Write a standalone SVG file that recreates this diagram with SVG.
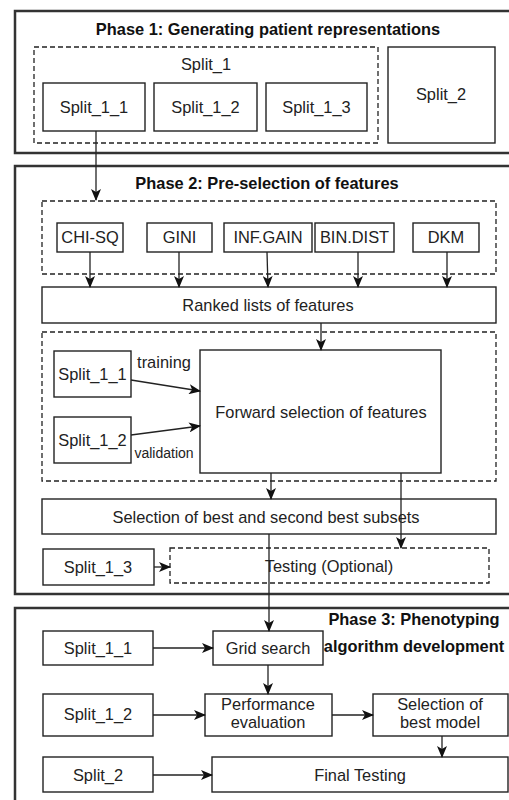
<svg xmlns="http://www.w3.org/2000/svg" width="509" height="800" viewBox="0 0 509 800">
<defs>
<style>
.frame{fill:none;stroke:#333;stroke-width:2.5}
.box{fill:#fff;stroke:#222;stroke-width:1.4}
.dash{fill:none;stroke:#222;stroke-width:1.3;stroke-dasharray:5,3}
.dashw{fill:#fff;stroke:#222;stroke-width:1.3;stroke-dasharray:5,3}
.t{font-family:"Liberation Sans",Arial,sans-serif;font-size:16.4px;fill:#222;text-anchor:middle}
.s{font-size:14px}
.b{font-weight:bold;fill:#111}
.c{fill:none;stroke:#222;stroke-width:1.3}
</style>
<marker id="ah" markerWidth="12" markerHeight="10" refX="11" refY="5" orient="auto" markerUnits="userSpaceOnUse">
<path d="M0,0 L12,5 L0,10 L3,5 Z" fill="#111"/>
</marker>
</defs>
<rect width="509" height="800" fill="#fff"/>

<g id="phase1">
<rect class="frame" x="15" y="11" width="510" height="142"/>
<text class="t b" x="268" y="35">Phase 1: Generating patient representations</text>
</g>
<g id="split1">
<rect class="dash" x="34" y="47" width="344" height="96"/>
<text class="t" x="206" y="70">Split_1</text>
</g>
<g id="p1_split_1_1"><rect class="box" x="43" y="83" width="102" height="48"/><text class="t" x="94" y="113">Split_1_1</text></g>
<g id="p1_split_1_2"><rect class="box" x="154" y="83" width="103" height="48"/><text class="t" x="205.5" y="113">Split_1_2</text></g>
<g id="p1_split_1_3"><rect class="box" x="266" y="83" width="101" height="48"/><text class="t" x="316.5" y="113">Split_1_3</text></g>
<g id="p1_split_2"><rect class="box" x="388" y="47" width="107" height="96"/><text class="t" x="441" y="100">Split_2</text></g>

<g id="phase2">
<rect class="frame" x="15" y="166" width="510" height="428"/>
<text class="t b" x="267" y="189">Phase 2: Pre-selection of features</text>
</g>
<g id="methods_group"><rect class="dash" x="42" y="201" width="454" height="73"/></g>
<g id="chisq"><rect class="box" x="57" y="223" width="66" height="29"/><text class="t" x="90" y="243">CHI-SQ</text></g>
<g id="gini"><rect class="box" x="147" y="223" width="65" height="29"/><text class="t" x="179.5" y="243">GINI</text></g>
<g id="infgain"><rect class="box" x="224" y="223" width="88" height="29"/><text class="t" x="268" y="243">INF.GAIN</text></g>
<g id="bindist"><rect class="box" x="315" y="223" width="79" height="29"/><text class="t" x="354.5" y="243">BIN.DIST</text></g>
<g id="dkm"><rect class="box" x="413" y="223" width="66" height="29"/><text class="t" x="446" y="243">DKM</text></g>
<g id="ranked"><rect class="box" x="42" y="287" width="454" height="36"/><text class="t" x="268" y="311">Ranked lists of features</text></g>
<g id="fs_group"><rect class="dash" x="42" y="332" width="454" height="149"/></g>
<g id="forward"><rect class="box" x="200" y="350" width="241" height="123"/><text class="t" x="321" y="417.5">Forward selection of features</text></g>
<g id="p2_split_1_1"><rect class="box" x="54" y="351" width="77" height="46"/><text class="t" x="92.5" y="380">Split_1_1</text></g>
<g id="p2_split_1_2"><rect class="box" x="54" y="417" width="77" height="46"/><text class="t" x="92.5" y="446">Split_1_2</text></g>
<g id="selection"><rect class="box" x="42" y="499" width="454" height="35"/><text class="t" x="266" y="522.5">Selection of best and second best subsets</text></g>
<g id="testing"><rect class="dashw" x="170" y="548" width="319" height="35"/><text class="t" x="329" y="571.5">Testing (Optional)</text></g>
<g id="p2_split_1_3"><rect class="box" x="43" y="549" width="111" height="36"/><text class="t" x="98" y="573">Split_1_3</text></g>

<g id="phase3">
<rect class="frame" x="15" y="608" width="510" height="210"/>
<text class="t b" x="414" y="625">Phase 3: Phenotyping</text>
<text class="t b" x="414" y="652">algorithm development</text>
</g>
<g id="p3_split_1_1"><rect class="box" x="43" y="631" width="110" height="34"/><text class="t" x="98" y="654">Split_1_1</text></g>
<g id="grid"><rect class="box" x="213" y="631" width="110" height="34"/><text class="t" x="268" y="654">Grid search</text></g>
<g id="p3_split_1_2"><rect class="box" x="43" y="694" width="110" height="42"/><text class="t" x="98" y="720">Split_1_2</text></g>
<g id="perf"><rect class="box" x="205" y="694" width="127" height="42"/><text class="t" x="268" y="710">Performance</text><text class="t" x="268" y="728">evaluation</text></g>
<g id="bestmodel"><rect class="box" x="373" y="694" width="135" height="42"/><text class="t" x="440" y="710">Selection of</text><text class="t" x="440" y="728">best model</text></g>
<g id="p3_split_2"><rect class="box" x="43" y="757" width="110" height="35"/><text class="t" x="98" y="781">Split_2</text></g>
<g id="final"><rect class="box" x="212" y="757" width="296" height="35"/><text class="t" x="360" y="781">Final Testing</text></g>

<g id="connectors">
<line class="c" x1="96" y1="131" x2="96" y2="200" marker-end="url(#ah)"/>
<line class="c" x1="90" y1="252" x2="90" y2="287" marker-end="url(#ah)"/>
<line class="c" x1="179" y1="252" x2="179" y2="287" marker-end="url(#ah)"/>
<line class="c" x1="267" y1="252" x2="268" y2="287" marker-end="url(#ah)"/>
<line class="c" x1="358" y1="252" x2="358" y2="287" marker-end="url(#ah)"/>
<line class="c" x1="447" y1="252" x2="447" y2="287" marker-end="url(#ah)"/>
<line class="c" x1="321" y1="323" x2="321" y2="350" marker-end="url(#ah)"/>
<line class="c" x1="131" y1="380" x2="200" y2="391" marker-end="url(#ah)"/>
<line class="c" x1="131" y1="435" x2="200" y2="426" marker-end="url(#ah)"/>
<text class="t" x="164" y="368">training</text>
<text class="t s" x="164" y="458">validation</text>
<line class="c" x1="271" y1="473" x2="271" y2="499" marker-end="url(#ah)"/>
<line class="c" x1="401" y1="473" x2="401" y2="548" marker-end="url(#ah)"/>
<line class="c" x1="154" y1="567" x2="170" y2="567" marker-end="url(#ah)"/>
<line class="c" x1="269" y1="534" x2="269" y2="631" marker-end="url(#ah)"/>
<line class="c" x1="153" y1="648" x2="213" y2="648" marker-end="url(#ah)"/>
<line class="c" x1="268" y1="665" x2="268" y2="694" marker-end="url(#ah)"/>
<line class="c" x1="153" y1="715" x2="205" y2="715" marker-end="url(#ah)"/>
<line class="c" x1="332" y1="715" x2="373" y2="715" marker-end="url(#ah)"/>
<line class="c" x1="442" y1="736" x2="442" y2="757" marker-end="url(#ah)"/>
<line class="c" x1="153" y1="775" x2="212" y2="775" marker-end="url(#ah)"/>
</g>
</svg>
